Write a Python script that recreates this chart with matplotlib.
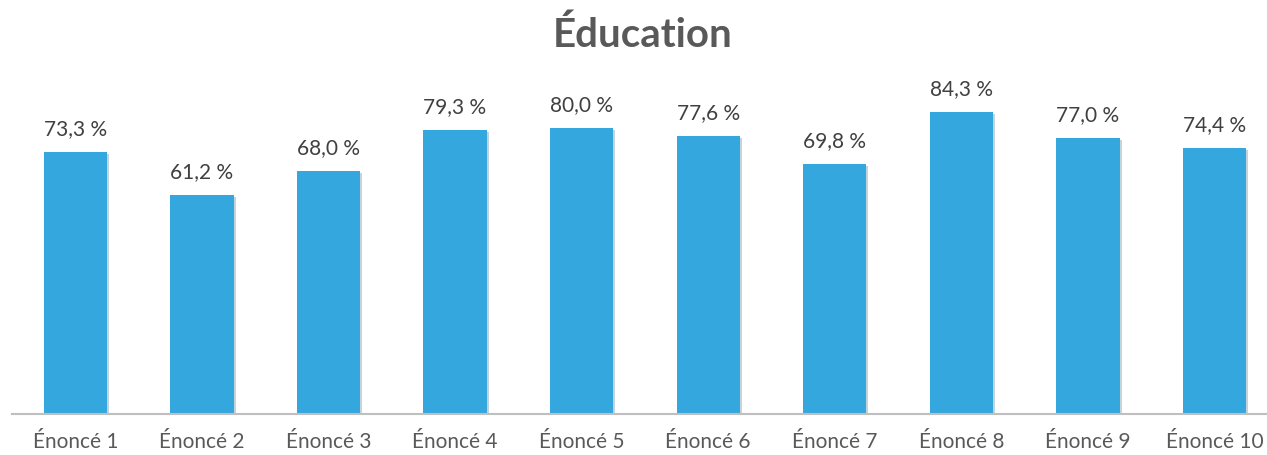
import matplotlib
matplotlib.use("Agg")
import matplotlib.pyplot as plt
import matplotlib.patheffects as pe

categories = ["Énoncé 1", "Énoncé 2", "Énoncé 3", "Énoncé 4", "Énoncé 5",
              "Énoncé 6", "Énoncé 7", "Énoncé 8", "Énoncé 9", "Énoncé 10"]
values = [73.3, 61.2, 68.0, 79.3, 80.0, 77.6, 69.8, 84.3, 77.0, 74.4]
title = "Éducation"

W, H, DPI = 1267, 456, 100
plt.rcParams['font.family'] = ['Lato', 'DejaVu Sans']
fig = plt.figure(figsize=(W / DPI, H / DPI), dpi=DPI)
left_px, right_px = 12, 1267
bottom_px, top_px = 415, 57
ax = fig.add_axes([left_px / W, (H - bottom_px) / H,
                   (right_px - left_px) / W, (bottom_px - top_px) / H])

x = list(range(len(categories)))
bars = ax.bar(x, values, width=0.5, color="#35A7DF", zorder=2)
for b in bars:
    b.set_path_effects([pe.SimplePatchShadow(offset=(1.5, -1.5), alpha=0.25, rho=0.5), pe.Normal()])

for xi, v in zip(x, values):
    ax.annotate(f"{v:.1f} %".replace(".", ","), (xi, v), xytext=(0, 10),
                textcoords="offset points", ha="center", va="bottom",
                fontsize=15, color="#404040")

ax.set_xlim(-0.5, 9.415)
ax.set_ylim(0, 100)
ax.set_xticks(x)
ax.set_xticklabels(categories, fontsize=15, color="#595959")
ax.tick_params(axis="x", length=0, pad=12)
ax.set_yticks([])
for s in ["top", "right", "left"]:
    ax.spines[s].set_visible(False)
ax.spines["bottom"].set_color("#BFBFBF")
ax.spines["bottom"].set_linewidth(1.5)

fig.text(643 / W, (H - 35) / H, title,
         ha="center", va="center", fontsize=29, fontweight="bold", color="#595959")

fig.savefig("out.png", dpi=DPI)
